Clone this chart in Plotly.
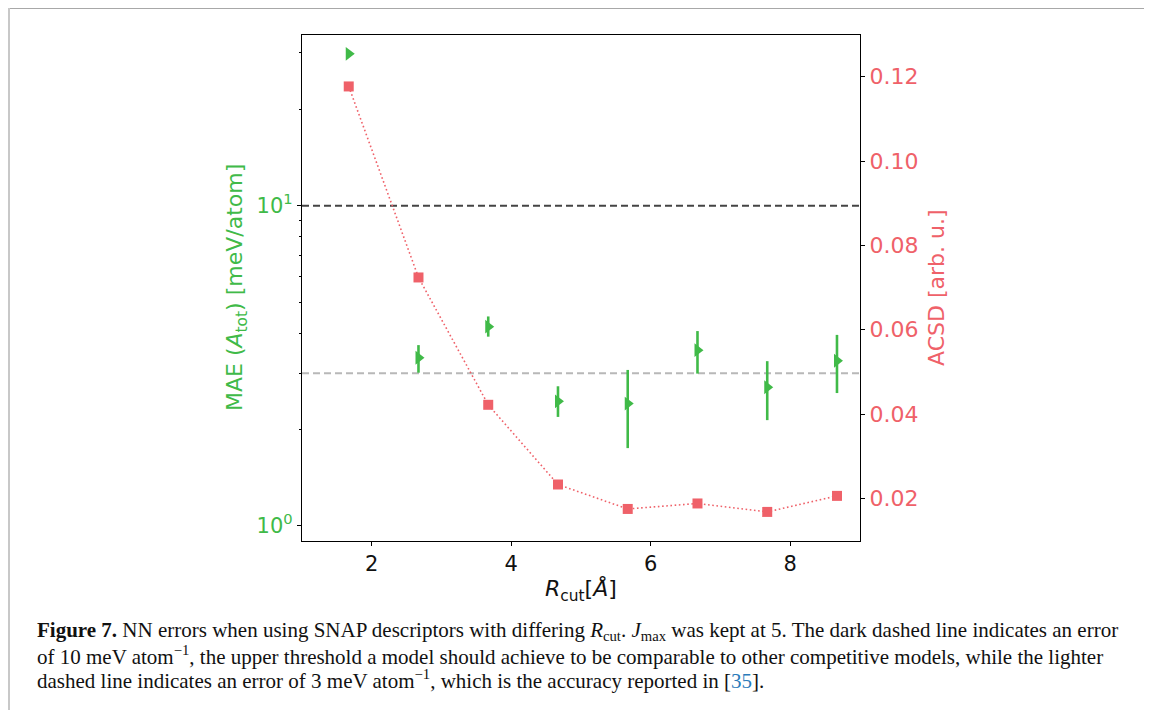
import plotly.graph_objects as go

# ---- data ----
r_cut = [1.67, 2.67, 3.67, 4.67, 5.67, 6.67, 7.67, 8.67]
mae = [29.8, 3.35, 4.19, 2.45, 2.41, 3.54, 2.71, 3.28]
mae_hi = [29.8, 3.67, 4.51, 2.73, 3.07, 4.06, 3.27, 3.95]
mae_lo = [29.8, 3.01, 3.90, 2.19, 1.75, 2.99, 2.14, 2.60]
acsd = [0.1177, 0.0724, 0.0422, 0.0233, 0.0175, 0.0188, 0.0168, 0.0206]
threshold_dark = 10
threshold_light = 3
x_ticks = [2, 4, 6, 8]
acsd_ticks = [0.02, 0.04, 0.06, 0.08, 0.10, 0.12]
mae_major = [1, 10]
mae_major_text = ["10<sup>0</sup>", "10<sup>1</sup>"]
mae_minor = [2, 3, 4, 5, 6, 7, 8, 9, 20, 30]

GREEN = "#40ba48"
RED = "#ef6169"
FONT = "DejaVu Sans"

# the page body adds an 8 px margin, so the figure is placed at (8, 8)
OFF = 8
W, H = 1152 - OFF, 710 - OFF
# plot area in (reference) screen pixels
L, R, T, B = 302, 860, 35, 541
pw, ph = R - L, B - T


def px(x):
    return (x - L) / pw


def py(y):
    return (B - y) / ph


err_plus = [h - m for h, m in zip(mae_hi, mae)]
err_minus = [m - l for m, l in zip(mae, mae_lo)]

fig = go.Figure()

fig.add_trace(go.Scatter(
    x=[1, 9], y=[threshold_dark, threshold_dark], mode="lines",
    line=dict(color="#444444", width=2, dash="7px,4px"),
    hoverinfo="skip", showlegend=False, yaxis="y"))
fig.add_trace(go.Scatter(
    x=[1, 9], y=[threshold_light, threshold_light], mode="lines",
    line=dict(color="#b8b8b8", width=2, dash="7px,4px"),
    hoverinfo="skip", showlegend=False, yaxis="y"))

fig.add_trace(go.Scatter(
    x=r_cut, y=mae, mode="markers",
    marker=dict(symbol="triangle-right", size=12, color=GREEN),
    error_y=dict(type="data", symmetric=False, array=err_plus,
                 arrayminus=err_minus, color=GREEN, thickness=2.6, width=0),
    showlegend=False, yaxis="y"))

fig.add_trace(go.Scatter(
    x=r_cut, y=acsd, mode="lines+markers",
    line=dict(color=RED, width=1.6, dash="1.6px,2.6px"),
    marker=dict(symbol="square", size=10, color=RED),
    showlegend=False, yaxis="y2"))

fig.update_layout(
    width=W, height=H,
    margin=dict(l=L - OFF, r=W - (R - OFF), t=T - OFF, b=H - (B - OFF), pad=0),
    paper_bgcolor="white", plot_bgcolor="white",
    font=dict(family=FONT, size=21, color="black"),
    xaxis=dict(
        range=[1, 9], tickvals=x_ticks, ticks="outside", ticklen=4,
        tickwidth=1, tickcolor="black", showline=True, linecolor="black",
        linewidth=1.3, mirror=True, showgrid=False, zeroline=False,
        tickfont=dict(family=FONT, size=21, color="#111111")),
    yaxis=dict(
        type="log", range=[-0.047, 1.533], tickvals=mae_major,
        ticktext=mae_major_text, ticks="outside", ticklen=4, tickwidth=1,
        tickcolor="black", showline=True, linecolor="black", linewidth=1.3,
        showgrid=False, zeroline=False,
        tickfont=dict(family=FONT, size=21, color=GREEN),
        minor=dict(tickvals=mae_minor, ticks="outside", ticklen=2,
                   tickwidth=1, tickcolor="black", showgrid=False)),
    yaxis2=dict(
        overlaying="y", side="right", range=[0.0099, 0.1299],
        tickvals=acsd_ticks, tickformat=".2f", ticks="outside", ticklen=4,
        tickwidth=1, tickcolor="black", showline=True, linecolor="black",
        linewidth=1.3, showgrid=False, zeroline=False,
        tickfont=dict(family=FONT, size=22, color=RED)),
)

annotations = [
    dict(text="MAE (<i>A</i><sub>tot</sub>) [meV/atom]", x=px(236), y=0.5,
         textangle=-90, font=dict(family=FONT, size=22, color=GREEN)),
    dict(text="ACSD [arb. u.]", x=px(936), y=0.5, textangle=-90,
         font=dict(family=FONT, size=22, color=RED)),
    dict(text="<i>R</i><sub>cut</sub>[<i>Å</i>]", x=px(581), y=py(590),
         font=dict(family=FONT, size=22, color="#111111")),
]
caption = [
    "<b>Figure 7.</b> NN errors when using SNAP descriptors with differing "
    "<i>R</i><sub>cut</sub>. <i>J</i><sub>max</sub> was kept at 5. The dark "
    "dashed line indicates an error",
    "of 10 meV atom<sup>−1</sup>, the upper threshold a model should achieve "
    "to be comparable to other competitive models, while the lighter",
    "dashed line indicates an error of 3 meV atom<sup>−1</sup>, which is the "
    "accuracy reported in [<span style='color:#2b7bba'>35</span>].",
]
for i, line in enumerate(caption):
    annotations.append(dict(
        text=line, x=px(35), y=py(631 + 24 * i), xanchor="left",
        yanchor="middle", align="left",
        font=dict(family="Liberation Serif", size=21, color="#111111")))

for a in annotations:
    a.setdefault("xanchor", "center")
    a.setdefault("yanchor", "middle")
    a.update(xref="paper", yref="paper", showarrow=False)
fig.update_layout(annotations=annotations)

# outer frame of the figure panel
fig.update_layout(shapes=[
    dict(type="line", xref="paper", yref="paper", x0=px(8), x1=px(1170),
         y0=py(8.5), y1=py(8.5), line=dict(color="#a8a8a8", width=1)),
    dict(type="line", xref="paper", yref="paper", x0=px(9), x1=px(9),
         y0=py(8), y1=py(730), line=dict(color="#c8c8c8", width=2)),
])

fig.write_html("out.html")
